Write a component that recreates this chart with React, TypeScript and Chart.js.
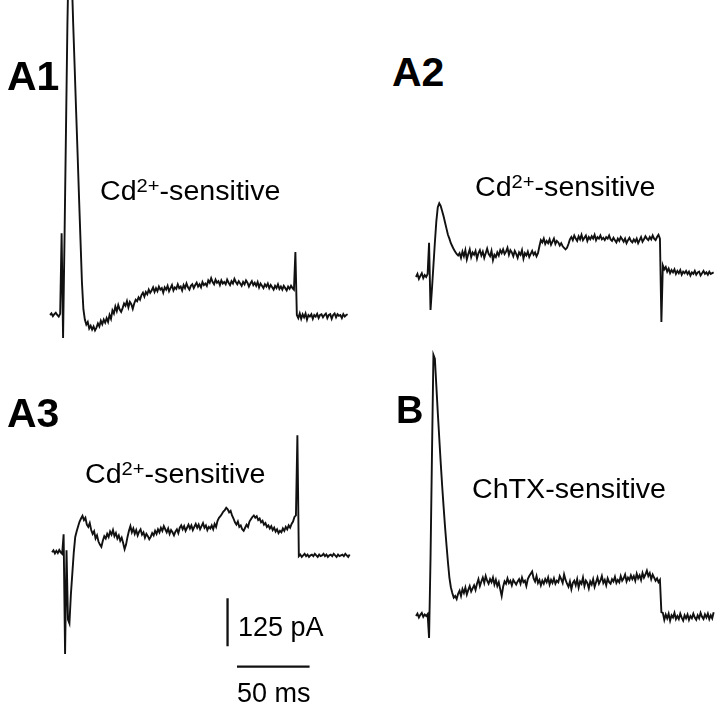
import React, { useEffect, useRef } from "react";
import { Chart, registerables } from "chart.js";

Chart.register(...registerables);

// ---- data (current in pA, sampled every SAMPLE_MS ms) ----
const SAMPLE_MS = 1;

const A1_PA = [
  0, 4, -3, 2, 6, 0, -4, 3, 213, -60,
  200, 480, 760, 960, 990, 880, 755, 643, 530, 420,
  305, 195, 85, 15, -12, -25, -18, -35, -28, -38,
  -30, -40, -33, -22, -30, -15, -24, -12, -20, -8,
  -18, 0, -10, 12, 4, 22, 10, 26, 14, 8,
  18, 30, 24, 36, 20, 34, 28, 16, 30, 40,
  36, 46, 40, 52, 58, 48, 60, 54, 66, 58,
  64, 72, 60, 70, 62, 74, 66, 70, 58, 72,
  66, 76, 62, 70, 78, 64, 72, 68, 80, 70,
  74, 64, 78, 70, 82, 72, 66, 76, 80, 70,
  78, 84, 74, 80, 72, 86, 78, 82, 76, 90,
  84, 96, 86, 80, 92, 84, 88, 78, 90, 82,
  86, 80, 92, 84, 78, 88, 82, 94, 86, 80,
  88, 82, 76, 86, 80, 90, 84, 74, 82, 88,
  78, 84, 76, 86, 72, 82, 76, 70, 80, 74,
  82, 70, 78, 72, 66, 76, 70, 80, 68, 74,
  66, 76, 70, 64, 74, 68, 76, 70, 66, 164,
  0, -8, 4, -10, 2, -6, 4, -12, 0, -4,
  2, -10, 0, -4, 3, -8, 0, 2, -6, 0,
  4, -8, 0, 2, -10, 0, 4, -6, 2, -2,
  0, -8, 2, -4, 0, 2,
];

const A2_PA = [
  0, 8, -5, 3, 10, -3, 5, 0, 8, 89,
  -86, -30, 30, 90, 145, 182, 192, 185, 172, 158,
  142, 126, 110, 100, 88, 80, 72, 66, 60, 56,
  62, 50, 66, 54, 70, 46, 60, 72, 52, 64,
  58, 68, 48, 62, 70, 56, 66, 50, 62, 74,
  60, 54, 68, 44, 58, 52, 64, 56, 70, 62,
  72, 60, 66, 76, 58, 70, 64, 54, 68, 60,
  50, 64, 58, 70, 48, 62, 56, 66, 52, 60,
  68, 58, 64, 54, 62, 80, 96, 90, 100, 86,
  94, 88, 98, 84, 92, 100, 86, 94, 90, 82,
  88, 80, 76, 72, 76, 86, 98, 104, 96, 108,
  100, 94, 106, 98, 110, 96, 102, 108, 94, 104,
  98, 106, 100, 110, 96, 104, 100, 108, 98, 102,
  96, 104, 100, 108, 98, 94, 102, 96, 90, 100,
  94, 104, 98, 92, 100, 88, 96, 102, 94, 90,
  98, 92, 100, 88, 96, 104, 92, 98, 106, 100,
  96, 104, 98, 108, 100, 96, 104, 110, 100, -117,
  30, 20, 26, 14, 22, 10, 18, 12, 20, 8,
  16, 10, 18, 6, 14, 10, 16, 8, 14, 4,
  12, 8, 16, 6, 12, 14, 4, 10, 16, 8,
  12, 6, 14, 8, 10, 12,
];

const A3_PA = [
  0, 5, -3, 4, -2, 6, 0, -4, 47, -265,
  5, -175, -185, -110, -55, 0, 40, 55, 68, 80,
  88, 95, 84, 90, 72, 66, 76, 58, 48, 55,
  36, 44, 28, 20, 14, 30, 42, 36, 48, 40,
  54, 46, 58, 42, 50, 36, 44, 30, 38, 24,
  8, 20, 40, 56, 68, 52, 62, 48, 58, 44,
  54, 60, 46, 52, 38, 48, 42, 34, 40, 50,
  44, 56, 48, 60, 52, 64, 56, 68, 60, 52,
  62, 48, 58, 52, 44, 54, 60, 50, 64, 70,
  60, 68, 56, 64, 72, 62, 70, 58, 66, 74,
  64, 72, 60, 68, 76, 64, 70, 58, 66, 62,
  70, 60, 74, 66, 82, 90, 94, 100, 106, 110,
  116, 112, 104, 108, 96, 88, 78, 72, 80, 66,
  70, 60, 56, 64, 72, 66, 80, 86, 92, 96,
  90, 94, 84, 88, 78, 82, 72, 76, 66, 70,
  62, 68, 58, 64, 54, 60, 50, 56, 52, 62,
  56, 66, 60, 70, 64, 74, 80, 92, 96, 305,
  -10, -6, -12, -8, -4, -10, -6, -12, -8, -6,
  -10, -4, -8, -12, -6, -10, -8, -4, -10, -6,
  -12, -8, -6, -10, -4, -8, -12, -6, -10, -8,
  -6, -10, -4, -8, -12, -6,
];

const B_PA = [
  0, 6, -4, 3, 8, -2, 4, 0, 5, -57,
  150, 420, 680, 670, 600, 530, 465, 400, 340, 285,
  232, 185, 140, 100, 75, 60, 48, 52, 44, 58,
  66, 52, 70, 60, 74, 56, 68, 78, 64, 72,
  80, 68, 84, 96, 78, 90, 100, 86, 104, 92,
  84, 96, 88, 100, 82, 94, 78, 88, 70, 52,
  76, 90, 84, 98, 86, 92, 80, 94, 88, 82,
  90, 96, 84, 100, 88, 92, 78, 96, 104, 110,
  116, 98, 90, 104, 86, 94, 80, 92, 84, 96,
  88, 100, 82, 94, 86, 98, 84, 92, 88, 104,
  96, 86, 108, 94, 84, 76, 90, 70, 86, 92,
  80, 96, 74, 90, 84, 100, 78, 92, 86, 72,
  90, 82, 96, 76, 88, 100, 84, 92, 104, 86,
  94, 80, 98, 88, 84, 96, 90, 102, 86, 94,
  88, 104, 92, 98, 108, 90, 100, 94, 106, 96,
  104, 92, 110, 98, 106, 94, 112, 100, 108, 118,
  104, 112, 96, 108, 100, 92, 98, 88, 94, 10,
  8, -10, 4, -6, 6, -12, 2, -4, 8, -8,
  0, -8, 6, -4, -12, 2, -6, 4, -10, 0,
  -6, 6, -4, -10, 2, -6, 8, -2, -8, 4,
  -4, 6, -8, 2, -6, 10,
];

const PANEL_LABELS = ["A1", "A2", "A3", "B"];
const TRACE_NAMES = ["Cd", "Cd", "Cd", "ChTX-sensitive"];
const SCALE_PA = 125;
const SCALE_MS = 50;
const SCALE_UNITS = ["pA", "ms"];

// ---- layout (pixels) ----
const PX_PER_MS = 72.6 / 50;
const PX_PER_PA = 48 / 125;
const LINE_COLOR = "#111";

type PanelGeom = { x0: number; yb: number; top: number; bottom: number };

const GEOM: PanelGeom[] = [
  { x0: 50, yb: 315, top: 0, bottom: 345 },
  { x0: 416, yb: 277, top: 190, bottom: 335 },
  { x0: 51.7, yb: 552.3, top: 425, bottom: 685 },
  { x0: 416, yb: 616, top: 330, bottom: 655 },
];

// scale bar anchor (in A3 axis units)
const SCALE_ANCHOR_T = 120.9;
const SCALE_ANCHOR_PA = -119.8;
const SCALE_H_START_T = 127.4;
const SCALE_H_PA = -297.9;

const toXY = (arr: number[]) => arr.map((v, i) => ({ x: i * SAMPLE_MS, y: v }));

function TraceChart({ series, geom, withScale }: { series: number[]; geom: PanelGeom; withScale?: boolean }) {
  const ref = useRef<HTMLCanvasElement | null>(null);
  const padL = 8;
  const width = 322;
  const height = geom.bottom - geom.top;
  useEffect(() => {
    const canvas = ref.current!;
    const xmin = -padL / PX_PER_MS;
    const xmax = xmin + width / PX_PER_MS;
    const ymax = (geom.yb - geom.top) / PX_PER_PA;
    const ymin = -(geom.bottom - geom.yb) / PX_PER_PA;
    const datasets: any[] = [
      {
        data: toXY(series),
        borderColor: LINE_COLOR,
        borderWidth: 1.9,
        pointRadius: 0,
        tension: 0,
        fill: false,
      },
    ];
    if (withScale) {
      datasets.push({
        data: [
          { x: SCALE_ANCHOR_T, y: SCALE_ANCHOR_PA },
          { x: SCALE_ANCHOR_T, y: SCALE_ANCHOR_PA - SCALE_PA },
        ],
        borderColor: LINE_COLOR,
        borderWidth: 2.3,
        pointRadius: 0,
      });
      datasets.push({
        data: [
          { x: SCALE_H_START_T, y: SCALE_H_PA },
          { x: SCALE_H_START_T + SCALE_MS, y: SCALE_H_PA },
        ],
        borderColor: LINE_COLOR,
        borderWidth: 2.3,
        pointRadius: 0,
      });
    }
    const chart = new Chart(canvas, {
      type: "line",
      data: { datasets },
      options: {
        animation: false,
        responsive: false,
        maintainAspectRatio: false,
        layout: { padding: 0 },
        plugins: { legend: { display: false }, tooltip: { enabled: false } },
        scales: {
          x: { type: "linear", display: false, min: xmin, max: xmax },
          y: { type: "linear", display: false, min: ymin, max: ymax },
        },
      },
    });
    return () => chart.destroy();
  }, []);
  return (
    <canvas
      ref={ref}
      width={width}
      height={height}
      style={{ position: "absolute", left: geom.x0 - padL, top: geom.top, width, height }}
    />
  );
}

function Text({ left, baseline, size, bold, children, sx }: any) {
  const top = baseline - 0.8465 * size;
  return (
    <div
      style={{
        position: "absolute",
        left,
        top,
        fontFamily: "'Liberation Sans', Arial, Helvetica, sans-serif",
        fontSize: size,
        lineHeight: `${size}px`,
        fontWeight: bold ? 700 : 400,
        whiteSpace: "nowrap",
        color: "#000",
        transform: sx ? `scaleX(${sx})` : undefined,
        transformOrigin: "left",
      }}
    >
      {children}
    </div>
  );
}

function CdLabel({ left, baseline }: { left: number; baseline: number }) {
  return (
    <Text left={left} baseline={baseline} size={27} sx={1.06}>
      {TRACE_NAMES[0]}
      <span style={{ fontSize: 19, position: "relative", top: -8 }}>2+</span>
      -sensitive
    </Text>
  );
}

export default function App() {
  useEffect(() => {
    document.body.style.margin = "0";
  }, []);
  return (
    <div style={{ position: "relative", width: 720, height: 708, background: "#fff", overflow: "hidden" }}>
      <TraceChart series={A1_PA} geom={GEOM[0]} />
      <TraceChart series={A2_PA} geom={GEOM[1]} />
      <TraceChart series={A3_PA} geom={GEOM[2]} withScale />
      <TraceChart series={B_PA} geom={GEOM[3]} />

      <Text left={7} baseline={91} size={41} bold>{PANEL_LABELS[0]}</Text>
      <Text left={392} baseline={87} size={41} bold>{PANEL_LABELS[1]}</Text>
      <Text left={7} baseline={428} size={41} bold>{PANEL_LABELS[2]}</Text>
      <Text left={396} baseline={423} size={38} bold>{PANEL_LABELS[3]}</Text>

      <CdLabel left={100} baseline={201} />
      <CdLabel left={475} baseline={197} />
      <CdLabel left={85} baseline={484} />
      <Text left={472} baseline={499} size={27} sx={1.06}>{TRACE_NAMES[3]}</Text>

      <Text left={238} baseline={637} size={27}>{`${SCALE_PA} ${SCALE_UNITS[0]}`}</Text>
      <Text left={237} baseline={703} size={27}>{`${SCALE_MS} ${SCALE_UNITS[1]}`}</Text>
    </div>
  );
}
